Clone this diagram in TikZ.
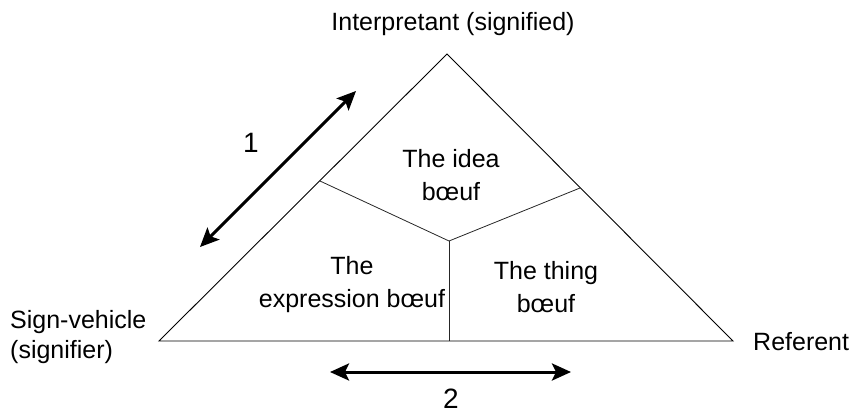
\documentclass[tikz,border=0pt]{standalone}
\usepackage{fontspec}
\setmainfont{Liberation Sans}
\usetikzlibrary{arrows.meta}

\begin{document}
\begin{tikzpicture}[
  x=1pt, y=-1pt,
  font=\fontsize{25}{33}\selectfont, >={Stealth[length=19pt,width=17pt,inset=4pt]},
  side/.style={line width=0.9pt, draw=black},
  part/.style={line width=0.8pt, draw=black!85},
  dbl/.style={<->, line width=3pt, draw=black},
  num/.style={font=\fontsize{28}{32}\selectfont, inner sep=0pt},
  txt/.style={align=center, inner sep=0pt},
]
\useasboundingbox (0,0) rectangle (856,415);
% ---------------- triangle ----------------
\coordinate (sv) at (159,341);
\coordinate (ip) at (447,54);
\coordinate (rf) at (733,341);
\draw[side] (sv) -- (ip) -- (rf) -- cycle;
% ---------------- inner partition ----------------
\coordinate (mid) at (449,241);
\coordinate (jl) at (320,181);
\coordinate (jr) at (580,188);
\coordinate (jb) at (449,341);
\draw[part] (jl) -- (mid) -- (jr);
\draw[part] (mid) -- (jb);
% ---------------- corner labels ----------------
\node[txt] (ipl) at (453,24) {Interpretant (signified)};
\node[txt, align=left, anchor=west, font=\fontsize{25}{30}\selectfont] (svl) at (10,337) {Sign-vehicle\\(signifier)};
\node[txt, anchor=west] (rfl) at (753,342) {Referent};
% ---------------- cell texts ----------------
\node[txt] (idea) at (451,175) {The idea\\bœuf};
\node[txt] (expr) at (352,285) {The\\expression bœuf};
\node[txt] (thing) at (546,287) {The thing\\bœuf};
% ---------------- arrows ----------------
\coordinate (a1s) at (200,247);
\coordinate (a1e) at (356,91);
\draw[dbl] (a1s) -- (a1e);
\node[num] (n1) at (251,143) {1};
\coordinate (a2s) at (330,372);
\coordinate (a2e) at (571,372);
\draw[dbl] (a2s) -- (a2e);
\node[num] (n2) at (451,399) {2};
\end{tikzpicture}
\end{document}
